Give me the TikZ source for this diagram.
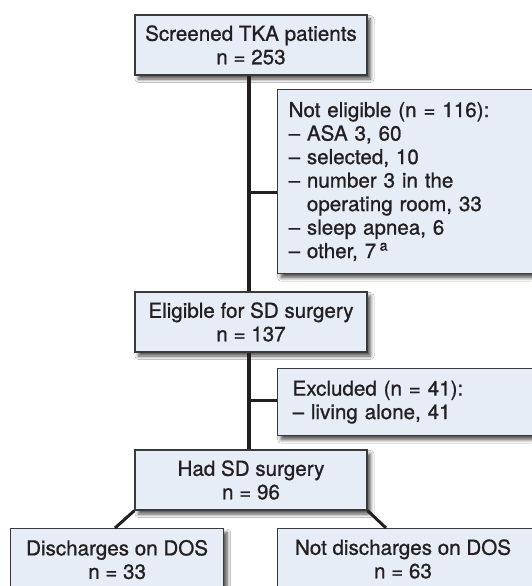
\documentclass[tikz,border=0pt]{standalone}
\usepackage{fontspec}
\setmainfont{TeX Gyre Heros}[RawFeature={embolden=0.9}]
\usetikzlibrary{shadows.blur}
\definecolor{boxfill}{HTML}{E6EDF7}
\definecolor{boxline}{HTML}{3A3A3A}
\definecolor{conn}{HTML}{231F20}
\begin{document}
\begin{tikzpicture}[x=1pt,y=-1pt,
  box/.style={draw=boxline, line width=1.2pt, fill=boxfill, inner sep=0pt,
    font=\fontsize{20.6}{23.5}\selectfont, text=conn,
    blur shadow={shadow xshift=3.5pt, shadow yshift=-4pt, shadow blur steps=6, shadow blur radius=3.5pt, shadow opacity=70}},
  cbox/.style={box, align=center},
  lbox/.style={box, align=left, inner xsep=11pt},
  trunk/.style={draw=conn, line width=4pt},
  branch/.style={draw=conn, line width=3pt}]
\useasboundingbox (0,0) rectangle (531,586);
\fill[white] (0,0) rectangle (531,586);

\node[cbox, minimum width=232pt, minimum height=60pt] (top) at (251,45) {Screened TKA patients\\n = 253};
\node[lbox, anchor=north west, text width=233pt, minimum height=184pt] (ne) at (277,89)
  {Not eligible (n = 116):\\– ASA 3, 60\\– selected, 10\\– number 3 in the\\\phantom{– }operating room, 33\\– sleep apnea, 6\\– other, 7\,\textsuperscript{a}};
\node[cbox, minimum width=232pt, minimum height=60pt] (elig) at (251,322) {Eligible for SD surgery\\n = 137};
\node[lbox, anchor=north west, text width=233pt, minimum height=67pt, inner xsep=15pt] (ex) at (277,368)
  {Excluded (n = 41):\\– living alone, 41};
\node[cbox, minimum width=232pt, minimum height=60pt] (had) at (251,480) {Had SD surgery\\n = 96};
\node[cbox, anchor=north west, minimum width=213pt, minimum height=62pt] (dis) at (10,528) {Discharges on DOS\\n = 33};
\node[box, anchor=north west, minimum width=255pt, minimum height=62pt] (nd) at (277,528) {};
\node[align=center, font=\fontsize{20.6}{23.5}\selectfont, text=conn, inner sep=0pt] (ndt) at (403,559) {Not discharges on DOS\\n = 63};

\coordinate (b1) at (249,192);
\coordinate (b2) at (249,400);
\draw[trunk] ([xshift=-2pt]top.south) -- ([xshift=-2pt]elig.north);
\draw[trunk] ([xshift=-2pt]elig.south) -- ([xshift=-2pt]had.north);
\draw[branch] (b1) -- (ne.west |- b1);
\draw[branch] (b2) -- (ex.west |- b2);
\draw[branch] (had.south west) -- ([xshift=105pt]dis.north west);
\draw[branch] (had.south east) -- ([xshift=109pt]nd.north west);
\end{tikzpicture}
\end{document}
